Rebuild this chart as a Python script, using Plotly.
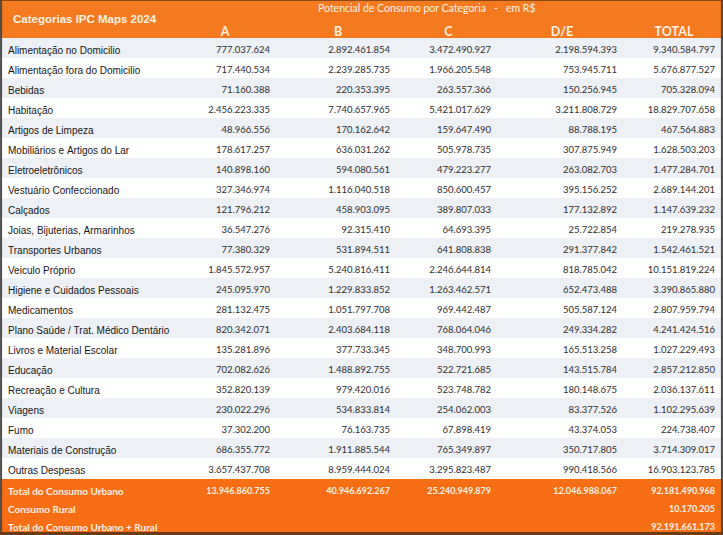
import plotly.graph_objects as go

# ---------------- data ----------------
table_title = "Categorias IPC Maps 2024"
header_super = "Potencial de Consumo por Categoria   -   em R$"
column_labels = ["A", "B", "C", "D/E", "TOTAL"]

categories = [
    "Alimentação no Domicilio", "Alimentação fora do Domicilio", "Bebidas", "Habitação",
    "Artigos de Limpeza", "Mobiliários e Artigos do Lar", "Eletroeletrônicos",
    "Vestuário Confeccionado", "Calçados", "Joias, Bijuterias, Armarinhos",
    "Transportes Urbanos", "Veiculo Próprio", "Higiene e Cuidados Pessoais", "Medicamentos",
    "Plano Saúde / Trat. Médico Dentário", "Livros e Material Escolar", "Educação",
    "Recreação e Cultura", "Viagens", "Fumo", "Materiais de Construção", "Outras Despesas",
]
col_a = [777037624, 717440534, 71160388, 2456223335, 48966556, 178617257, 140898160,
         327346974, 121796212, 36547276, 77380329, 1845572957, 245095970, 281132475,
         820342071, 135281896, 702082626, 352820139, 230022296, 37302200, 686355772, 3657437708]
col_b = [2892461854, 2239285735, 220353395, 7740657965, 170162642, 636031262, 594080561,
         1116040518, 458903095, 92315410, 531894511, 5240816411, 1229833852, 1051797708,
         2403684118, 377733345, 1488892755, 979420016, 534833814, 76163735, 1911885544, 8959444024]
col_c = [3472490927, 1966205548, 263557366, 5421017629, 159647490, 505978735, 479223277,
         850600457, 389807033, 64693395, 641808838, 2246644814, 1263462571, 969442487,
         768064046, 348700993, 522721685, 523748782, 254062003, 67898419, 765349897, 3295823487]
col_de = [2198594393, 753945711, 150256945, 3211808729, 88788195, 307875949, 263082703,
          395156252, 177132892, 25722854, 291377842, 818785042, 652473488, 505587124,
          249334282, 165513258, 143515784, 180148675, 83377526, 43374053, 350717805, 990418566]
col_total = [9340584797, 5676877527, 705328094, 18829707658, 467564883, 1628503203, 1477284701,
             2689144201, 1147639232, 219278935, 1542461521, 10151819224, 3390865880, 2807959794,
             4241424516, 1027229493, 2857212850, 2036137611, 1102295639, 224738407, 3714309017,
             16903123785]

footer_labels = ["Total do Consumo Urbano", "Consumo Rural", "Total do Consumo Urbano + Rural"]
footer_a = [13946860755, None, None]
footer_b = [40946692267, None, None]
footer_c = [25240949879, None, None]
footer_de = [12046988067, None, None]
footer_total = [92181490968, 10170205, 92191661173]

# ---------------- style ----------------
W, H = 723, 535
ORANGE = "#f57a1f"
ORANGE_FOOT = "#f76e14"
CREAM = "#fff1e4"
GRAY = "#edf0f4"
WHITE = "#ffffff"
NB = "\u00a0"
col_widths = [172, 106, 120, 101, 126, 98]
HEADER_H = 19   # two header rows
ROW_H = 20
FOOT_H = 18
LABEL_FONT = "Liberation Sans, Arial, sans-serif"


def br(v):
    return "" if v is None else f"{v:,}".replace(",", ".")


def nb(s):
    return s.replace(" ", NB)


num_cols = [col_a, col_b, col_c, col_de, col_total]
row_fill = [GRAY if i % 2 == 0 else WHITE for i in range(len(categories))]

main_bottom = H - (2 * HEADER_H + ROW_H * len(categories))
main = go.Table(
    domain=dict(x=[0, 1], y=[main_bottom / H, 1]),
    columnwidth=col_widths,
    header=dict(
        values=[["", ""]] + [["", c] for c in column_labels],
        align="center",
        height=HEADER_H,
        fill=dict(color=ORANGE),
        line=dict(width=0, color=ORANGE),
        font=dict(family="Lato", size=12.5, color=CREAM, weight="bold"),
    ),
    cells=dict(
        values=[[nb(c) for c in categories]] + [[br(v) for v in col] for col in num_cols],
        align=["left"] + ["right"] * 5,
        height=ROW_H,
        fill=dict(color=[row_fill] * 6),
        line=dict(width=0, color=WHITE),
        font=dict(family=[LABEL_FONT] + ["Lato"] * 5,
                  size=[10] + [9.5] * 5, color=["#161616"] + ["#2e2e2e"] * 5),
    ),
)

foot_top = H - 479
foot_bottom = foot_top - FOOT_H * 3
foot_cols = [footer_a, footer_b, footer_c, footer_de, footer_total]
foot_font = dict(family="Lato", size=[10] + [9] * 5, color=CREAM, weight="bold")
footer = go.Table(
    domain=dict(x=[0, 1], y=[max(foot_bottom, 0) / H, foot_top / H]),
    columnwidth=col_widths,
    header=dict(
        values=[nb(footer_labels[0])] + [br(c[0]) for c in foot_cols],
        align=["left"] + ["right"] * 5,
        height=FOOT_H,
        fill=dict(color=ORANGE_FOOT),
        line=dict(width=0, color=ORANGE_FOOT),
        font=foot_font,
    ),
    cells=dict(
        values=[[nb(s) for s in footer_labels[1:]]] + [[br(v) for v in c[1:]] for c in foot_cols],
        align=["left"] + ["right"] * 5,
        height=FOOT_H,
        fill=dict(color=ORANGE_FOOT),
        line=dict(width=0, color=ORANGE_FOOT),
        font=foot_font,
    ),
)

fig = go.Figure([main, footer])
fig.update_layout(
    width=W, height=H,
    margin=dict(l=0, r=0, t=0, b=0),
    paper_bgcolor="#ffffff",
    annotations=[
        dict(text=header_super, xref="paper", yref="paper", x=427 / W, y=1 - 8 / H,
             xanchor="center", yanchor="middle", showarrow=False,
             font=dict(family="Lato", size=10.5, color=CREAM)),
        dict(text="<b>" + table_title + "</b>", xref="paper", yref="paper", x=85 / W, y=1 - 19 / H,
             xanchor="center", yanchor="middle", showarrow=False,
             font=dict(family=LABEL_FONT, size=11.5, color=CREAM)),
    ],
    shapes=[
        dict(type="line", xref="paper", yref="paper", x0=0.0015, x1=0.0015, y0=0, y1=1,
             line=dict(color="#4a4a4a", width=2)),
        dict(type="line", xref="paper", yref="paper", x0=0.9985, x1=0.9985, y0=0, y1=1,
             line=dict(color="#4a4a4a", width=2)),
        dict(type="line", xref="paper", yref="paper", x0=0, x1=1, y0=0.9995, y1=0.9995,
             line=dict(color="#6b3a18", width=1)),
        dict(type="line", xref="paper", yref="paper", x0=0, x1=1, y0=0.003, y1=0.003,
             line=dict(color="#6b3a18", width=3)),
    ],
)
fig.write_html("out.html", config={"displayModeBar": False},
               post_script="document.body.style.margin='0';")
